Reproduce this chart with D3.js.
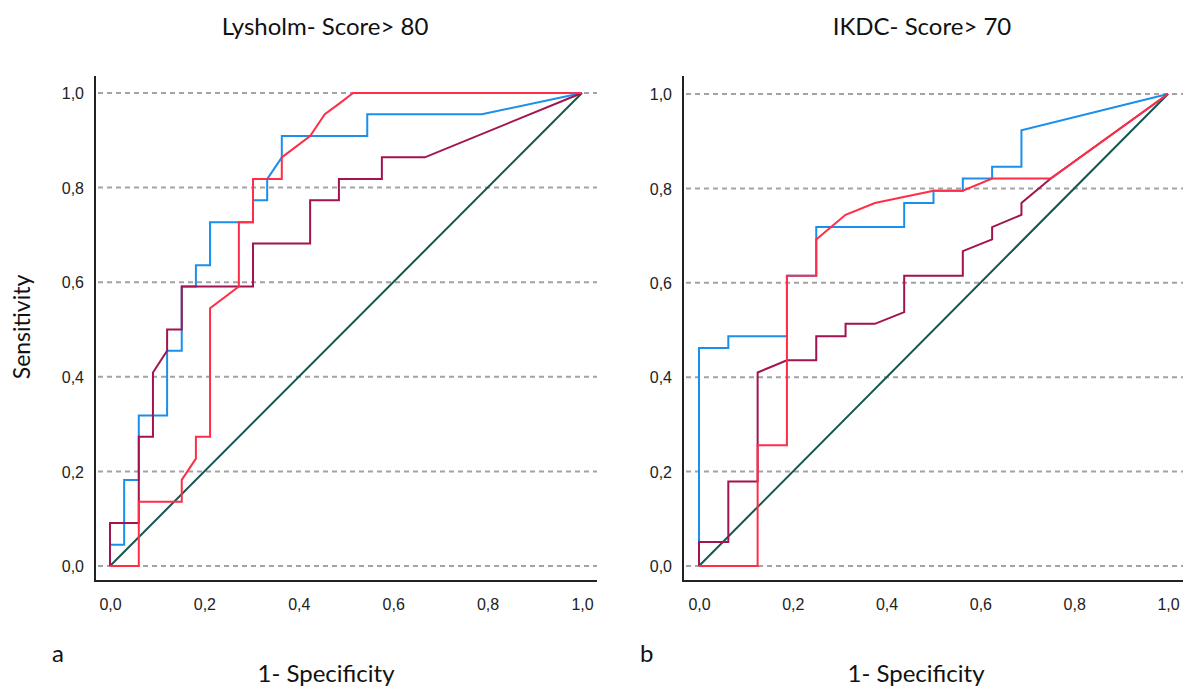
<!DOCTYPE html>
<html>
<head>
<meta charset="utf-8">
<script src="https://cdn.jsdelivr.net/npm/d3@7"></script>
<style>
  body { margin: 0; background: #fff; }
  .tick text { font-family: "Liberation Sans", Arial, sans-serif; font-size: 16px; fill: #222; }
  .lbl { font-family: Lato, "Open Sans", sans-serif; fill: #111; }
</style>
</head>
<body>
<div id="chart"></div>
<script>
// ---- data ----
const tickValues = [0, 0.2, 0.4, 0.6, 0.8, 1.0];

// panel a: Lysholm score > 80
const lysBlue = [[0,0],[0,0.045],[0.030,0.045],[0.030,0.182],[0.061,0.182],[0.061,0.318],[0.121,0.318],[0.121,0.455],[0.152,0.455],[0.152,0.591],[0.182,0.591],[0.182,0.636],[0.212,0.636],[0.212,0.727],[0.303,0.727],[0.303,0.773],[0.333,0.773],[0.333,0.818],[0.364,0.864],[0.364,0.909],[0.545,0.909],[0.545,0.955],[0.788,0.955],[1,1]];
const lysPurple = [[0,0],[0,0.091],[0.061,0.091],[0.061,0.273],[0.091,0.273],[0.091,0.409],[0.121,0.455],[0.121,0.5],[0.152,0.5],[0.152,0.591],[0.303,0.591],[0.303,0.682],[0.424,0.682],[0.424,0.773],[0.485,0.773],[0.485,0.818],[0.576,0.818],[0.576,0.864],[0.667,0.864],[1,1]];
const lysRed = [[0,0],[0.061,0],[0.061,0.136],[0.152,0.136],[0.152,0.182],[0.182,0.227],[0.182,0.273],[0.212,0.273],[0.212,0.545],[0.273,0.591],[0.273,0.727],[0.303,0.727],[0.303,0.818],[0.364,0.818],[0.364,0.864],[0.424,0.909],[0.455,0.955],[0.485,0.977],[0.515,1],[1,1]];

// panel b: IKDC score > 70
const ikdcBlue = [[0,0],[0,0.462],[0.0625,0.462],[0.0625,0.487],[0.1875,0.487],[0.1875,0.615],[0.25,0.615],[0.25,0.718],[0.4375,0.718],[0.4375,0.769],[0.5,0.769],[0.5,0.795],[0.5625,0.795],[0.5625,0.821],[0.625,0.821],[0.625,0.846],[0.6875,0.846],[0.6875,0.923],[1,1]];
const ikdcPurple = [[0,0],[0,0.051],[0.0625,0.051],[0.0625,0.179],[0.125,0.179],[0.125,0.41],[0.1875,0.436],[0.25,0.436],[0.25,0.487],[0.3125,0.487],[0.3125,0.513],[0.375,0.513],[0.4375,0.538],[0.4375,0.615],[0.5625,0.615],[0.5625,0.667],[0.625,0.692],[0.625,0.718],[0.6875,0.744],[0.6875,0.769],[0.75,0.821],[1,1]];
const ikdcRed = [[0,0],[0.125,0],[0.125,0.256],[0.1875,0.256],[0.1875,0.615],[0.25,0.615],[0.25,0.692],[0.3125,0.744],[0.375,0.769],[0.5,0.795],[0.5625,0.795],[0.625,0.821],[0.75,0.821],[1,1]];

const reference = [[0,0],[1,1]];

const colors = { blue: "#1a8fec", purple: "#a2134f", red: "#ff2d48", ref: "#135650" };

const panels = [
  { title: "Lysholm- Score> 80", letter: "a", titleX: 325, labelX: 326, frameX: 95, x0: 110, x1: 582, y0: 566, y1: 93, right: 597,
    series: [[lysBlue, colors.blue], [lysPurple, colors.purple], [lysRed, colors.red]] },
  { title: "IKDC- Score> 70", letter: "b", titleX: 922, labelX: 916, frameX: 683, x0: 699, x1: 1168, y0: 566, y1: 94, right: 1183,
    series: [[ikdcBlue, colors.blue], [ikdcPurple, colors.purple], [ikdcRed, colors.red]] }
];

const svg = d3.select("#chart").append("svg")
  .attr("width", 1186).attr("height", 690);

const fmt = d => d3.format(".1f")(d).replace(".", ",");
const bottomY = 581;

panels.forEach(p => {
  let x = d3.scaleLinear().domain([0, 1]).range([p.x0, p.x1]);
  let y = d3.scaleLinear().domain([0, 1]).range([p.y0, p.y1]);
  let g = svg.append("g");

  // dashed gridlines
  g.selectAll("line.grid").data(tickValues).enter().append("line")
    .attr("class", "grid")
    .attr("x1", p.frameX + 3).attr("x2", p.right)
    .attr("y1", d => y(d)).attr("y2", d => y(d))
    .attr("stroke", "#a3a3a3").attr("stroke-width", 2)
    .attr("stroke-dasharray", "5,4");

  // frame (left + bottom)
  g.append("path")
    .attr("d", `M${p.frameX},76 V${bottomY} H${p.right}`)
    .attr("fill", "none").attr("stroke", "#222").attr("stroke-width", 2);

  // axes - labels only
  let xAxis = g.append("g").attr("transform", `translate(0,${bottomY + 15})`)
    .call(d3.axisBottom(x).tickValues(tickValues).tickFormat(fmt).tickSize(0));
  xAxis.select(".domain").remove();

  let yAxis = g.append("g").attr("transform", `translate(${p.frameX - 8},0)`)
    .call(d3.axisLeft(y).tickValues(tickValues).tickFormat(fmt).tickSize(0));
  yAxis.select(".domain").remove();
  yAxis.selectAll("text").attr("dy", "0.36em");

  let line = d3.line().x(d => x(d[0])).y(d => y(d[1]));

  // diagonal reference line
  g.append("path").datum(reference)
    .attr("d", line).attr("fill", "none")
    .attr("stroke", colors.ref).attr("stroke-width", 2);

  g.selectAll("path.roc").data(p.series).enter().append("path")
    .attr("class", "roc")
    .attr("d", d => line(d[0]))
    .attr("fill", "none")
    .attr("stroke", d => d[1])
    .attr("stroke-width", 2)
    .attr("stroke-linejoin", "miter");

  // titles
  g.append("text").attr("class", "lbl")
    .attr("x", p.titleX).attr("y", 35)
    .attr("text-anchor", "middle").style("font-size", "24px")
    .text(p.title);

  g.append("text").attr("class", "lbl")
    .attr("x", p.labelX).attr("y", 682)
    .attr("text-anchor", "middle").style("font-size", "24px")
    .text("1- Specificity");

  g.append("text").attr("class", "lbl")
    .attr("x", p.frameX - 43).attr("y", 662)
    .style("font-size", "24px")
    .text(p.letter);
});

svg.append("text").attr("class", "lbl")
  .attr("transform", "translate(30,327) rotate(-90)")
  .attr("text-anchor", "middle").style("font-size", "23px")
  .text("Sensitivity");
</script>
</body>
</html>
